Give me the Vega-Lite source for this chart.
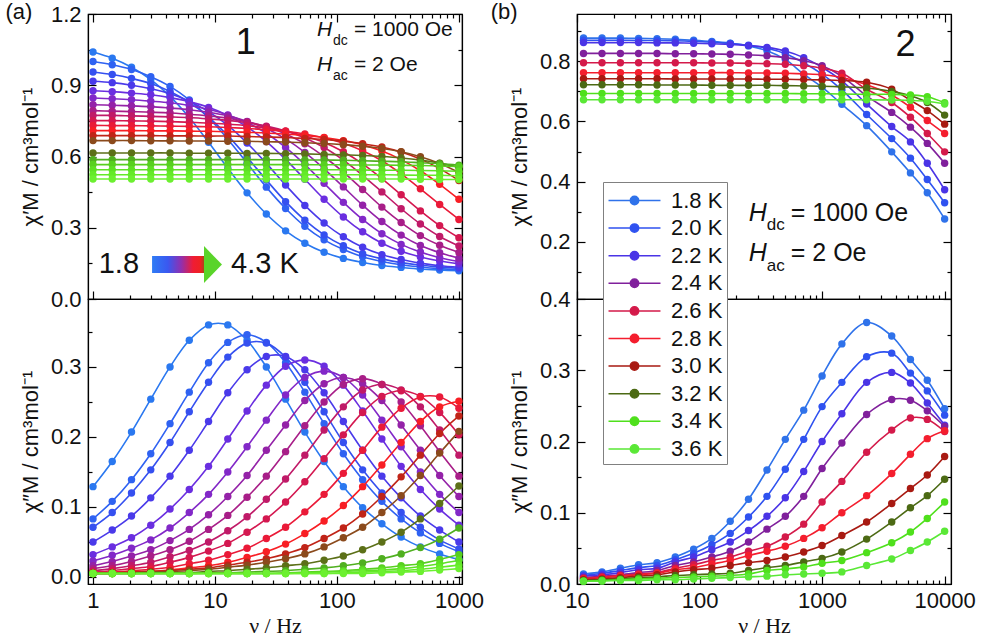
{
"$schema":"https://vega.github.io/schema/vega-lite/v6.json",
"background":"white",
"padding":{"left":4,"top":0,"right":4,"bottom":0},
"datasets":{
"d1":[
{"T":"1:1.8","f":1,"re":1.040,"im":0.129},{"T":"1:1.8","f":1.438,"re":1.014,"im":0.165},{"T":"1:1.8","f":2.069,"re":0.976,"im":0.207},{"T":"1:1.8","f":2.976,"re":0.924,"im":0.254},{"T":"1:1.8","f":4.281,"re":0.853,"im":0.300},{"T":"1:1.8","f":6.158,"re":0.764,"im":0.338},{"T":"1:1.8","f":8.859,"re":0.660,"im":0.360},{"T":"1:1.8","f":12.74,"re":0.551,"im":0.360},{"T":"1:1.8","f":18.33,"re":0.447,"im":0.338},{"T":"1:1.8","f":26.37,"re":0.358,"im":0.300},{"T":"1:1.8","f":37.93,"re":0.287,"im":0.254},{"T":"1:1.8","f":54.56,"re":0.235,"im":0.207},{"T":"1:1.8","f":78.48,"re":0.197,"im":0.165},{"T":"1:1.8","f":112.9,"re":0.171,"im":0.129},{"T":"1:1.8","f":162.4,"re":0.154,"im":0.099},{"T":"1:1.8","f":233.6,"re":0.141,"im":0.076},{"T":"1:1.8","f":336,"re":0.133,"im":0.057},{"T":"1:1.8","f":483.3,"re":0.126,"im":0.043},{"T":"1:1.8","f":695.2,"re":0.122,"im":0.033},{"T":"1:1.8","f":1000,"re":0.119,"im":0.025},
{"T":"1:1.9","f":1,"re":1.000,"im":0.083},{"T":"1:1.9","f":1.438,"re":0.986,"im":0.108},{"T":"1:1.9","f":2.069,"re":0.966,"im":0.139},{"T":"1:1.9","f":2.976,"re":0.936,"im":0.176},{"T":"1:1.9","f":4.281,"re":0.895,"im":0.219},{"T":"1:1.9","f":6.158,"re":0.838,"im":0.264},{"T":"1:1.9","f":8.859,"re":0.763,"im":0.306},{"T":"1:1.9","f":12.74,"re":0.673,"im":0.335},{"T":"1:1.9","f":18.33,"re":0.572,"im":0.346},{"T":"1:1.9","f":26.37,"re":0.471,"im":0.335},{"T":"1:1.9","f":37.93,"re":0.381,"im":0.306},{"T":"1:1.9","f":54.56,"re":0.306,"im":0.264},{"T":"1:1.9","f":78.48,"re":0.249,"im":0.219},{"T":"1:1.9","f":112.9,"re":0.208,"im":0.176},{"T":"1:1.9","f":162.4,"re":0.178,"im":0.139},{"T":"1:1.9","f":233.6,"re":0.158,"im":0.108},{"T":"1:1.9","f":336,"re":0.144,"im":0.083},{"T":"1:1.9","f":483.3,"re":0.135,"im":0.063},{"T":"1:1.9","f":695.2,"re":0.128,"im":0.048},{"T":"1:1.9","f":1000,"re":0.123,"im":0.036},
{"T":"1:2.0","f":1,"re":0.956,"im":0.071},{"T":"1:2.0","f":1.438,"re":0.945,"im":0.092},{"T":"1:2.0","f":2.069,"re":0.929,"im":0.120},{"T":"1:2.0","f":2.976,"re":0.907,"im":0.153},{"T":"1:2.0","f":4.281,"re":0.874,"im":0.192},{"T":"1:2.0","f":6.158,"re":0.828,"im":0.236},{"T":"1:2.0","f":8.859,"re":0.766,"im":0.278},{"T":"1:2.0","f":12.74,"re":0.688,"im":0.314},{"T":"1:2.0","f":18.33,"re":0.597,"im":0.334},{"T":"1:2.0","f":26.37,"re":0.501,"im":0.334},{"T":"1:2.0","f":37.93,"re":0.410,"im":0.314},{"T":"1:2.0","f":54.56,"re":0.332,"im":0.278},{"T":"1:2.0","f":78.48,"re":0.270,"im":0.236},{"T":"1:2.0","f":112.9,"re":0.224,"im":0.192},{"T":"1:2.0","f":162.4,"re":0.191,"im":0.153},{"T":"1:2.0","f":233.6,"re":0.169,"im":0.120},{"T":"1:2.0","f":336,"re":0.153,"im":0.092},{"T":"1:2.0","f":483.3,"re":0.142,"im":0.071},{"T":"1:2.0","f":695.2,"re":0.135,"im":0.053},{"T":"1:2.0","f":1000,"re":0.129,"im":0.040},
{"T":"1:2.1","f":1,"re":0.917,"im":0.050},{"T":"1:2.1","f":1.438,"re":0.911,"im":0.067},{"T":"1:2.1","f":2.069,"re":0.900,"im":0.087},{"T":"1:2.1","f":2.976,"re":0.885,"im":0.113},{"T":"1:2.1","f":4.281,"re":0.864,"im":0.144},{"T":"1:2.1","f":6.158,"re":0.833,"im":0.181},{"T":"1:2.1","f":8.859,"re":0.789,"im":0.222},{"T":"1:2.1","f":12.74,"re":0.731,"im":0.263},{"T":"1:2.1","f":18.33,"re":0.657,"im":0.296},{"T":"1:2.1","f":26.37,"re":0.571,"im":0.315},{"T":"1:2.1","f":37.93,"re":0.480,"im":0.315},{"T":"1:2.1","f":54.56,"re":0.394,"im":0.296},{"T":"1:2.1","f":78.48,"re":0.320,"im":0.263},{"T":"1:2.1","f":112.9,"re":0.262,"im":0.222},{"T":"1:2.1","f":162.4,"re":0.218,"im":0.181},{"T":"1:2.1","f":233.6,"re":0.187,"im":0.144},{"T":"1:2.1","f":336,"re":0.166,"im":0.113},{"T":"1:2.1","f":483.3,"re":0.151,"im":0.087},{"T":"1:2.1","f":695.2,"re":0.140,"im":0.067},{"T":"1:2.1","f":1000,"re":0.134,"im":0.050},
{"T":"1:2.2","f":1,"re":0.877,"im":0.032},{"T":"1:2.2","f":1.438,"re":0.873,"im":0.043},{"T":"1:2.2","f":2.069,"re":0.867,"im":0.056},{"T":"1:2.2","f":2.976,"re":0.860,"im":0.074},{"T":"1:2.2","f":4.281,"re":0.848,"im":0.097},{"T":"1:2.2","f":6.158,"re":0.831,"im":0.125},{"T":"1:2.2","f":8.859,"re":0.807,"im":0.158},{"T":"1:2.2","f":12.74,"re":0.773,"im":0.197},{"T":"1:2.2","f":18.33,"re":0.725,"im":0.237},{"T":"1:2.2","f":26.37,"re":0.663,"im":0.274},{"T":"1:2.2","f":37.93,"re":0.588,"im":0.301},{"T":"1:2.2","f":54.56,"re":0.504,"im":0.310},{"T":"1:2.2","f":78.48,"re":0.420,"im":0.301},{"T":"1:2.2","f":112.9,"re":0.345,"im":0.274},{"T":"1:2.2","f":162.4,"re":0.283,"im":0.237},{"T":"1:2.2","f":233.6,"re":0.235,"im":0.197},{"T":"1:2.2","f":336,"re":0.201,"im":0.158},{"T":"1:2.2","f":483.3,"re":0.177,"im":0.125},{"T":"1:2.2","f":695.2,"re":0.160,"im":0.097},{"T":"1:2.2","f":1000,"re":0.148,"im":0.074},
{"T":"1:2.3","f":1,"re":0.846,"im":0.023},{"T":"1:2.3","f":1.438,"re":0.843,"im":0.031},{"T":"1:2.3","f":2.069,"re":0.839,"im":0.041},{"T":"1:2.3","f":2.976,"re":0.833,"im":0.053},{"T":"1:2.3","f":4.281,"re":0.826,"im":0.070},{"T":"1:2.3","f":6.158,"re":0.815,"im":0.092},{"T":"1:2.3","f":8.859,"re":0.799,"im":0.118},{"T":"1:2.3","f":12.74,"re":0.775,"im":0.150},{"T":"1:2.3","f":18.33,"re":0.743,"im":0.186},{"T":"1:2.3","f":26.37,"re":0.698,"im":0.224},{"T":"1:2.3","f":37.93,"re":0.638,"im":0.260},{"T":"1:2.3","f":54.56,"re":0.566,"im":0.285},{"T":"1:2.3","f":78.48,"re":0.487,"im":0.294},{"T":"1:2.3","f":112.9,"re":0.407,"im":0.285},{"T":"1:2.3","f":162.4,"re":0.335,"im":0.260},{"T":"1:2.3","f":233.6,"re":0.275,"im":0.224},{"T":"1:2.3","f":336,"re":0.230,"im":0.186},{"T":"1:2.3","f":483.3,"re":0.198,"im":0.150},{"T":"1:2.3","f":695.2,"re":0.174,"im":0.118},{"T":"1:2.3","f":1000,"re":0.158,"im":0.092},
{"T":"1:2.4","f":1,"re":0.818,"im":0.016},{"T":"1:2.4","f":1.438,"re":0.816,"im":0.022},{"T":"1:2.4","f":2.069,"re":0.813,"im":0.030},{"T":"1:2.4","f":2.976,"re":0.810,"im":0.039},{"T":"1:2.4","f":4.281,"re":0.804,"im":0.052},{"T":"1:2.4","f":6.158,"re":0.797,"im":0.068},{"T":"1:2.4","f":8.859,"re":0.786,"im":0.089},{"T":"1:2.4","f":12.74,"re":0.771,"im":0.115},{"T":"1:2.4","f":18.33,"re":0.748,"im":0.145},{"T":"1:2.4","f":26.37,"re":0.718,"im":0.181},{"T":"1:2.4","f":37.93,"re":0.674,"im":0.217},{"T":"1:2.4","f":54.56,"re":0.617,"im":0.252},{"T":"1:2.4","f":78.48,"re":0.548,"im":0.276},{"T":"1:2.4","f":112.9,"re":0.472,"im":0.285},{"T":"1:2.4","f":162.4,"re":0.395,"im":0.276},{"T":"1:2.4","f":233.6,"re":0.326,"im":0.252},{"T":"1:2.4","f":336,"re":0.269,"im":0.217},{"T":"1:2.4","f":483.3,"re":0.225,"im":0.181},{"T":"1:2.4","f":695.2,"re":0.195,"im":0.145},{"T":"1:2.4","f":1000,"re":0.172,"im":0.115},
{"T":"1:2.5","f":1,"re":0.793,"im":0.012},{"T":"1:2.5","f":1.438,"re":0.791,"im":0.016},{"T":"1:2.5","f":2.069,"re":0.789,"im":0.022},{"T":"1:2.5","f":2.976,"re":0.787,"im":0.030},{"T":"1:2.5","f":4.281,"re":0.783,"im":0.039},{"T":"1:2.5","f":6.158,"re":0.778,"im":0.051},{"T":"1:2.5","f":8.859,"re":0.771,"im":0.068},{"T":"1:2.5","f":12.74,"re":0.761,"im":0.088},{"T":"1:2.5","f":18.33,"re":0.746,"im":0.114},{"T":"1:2.5","f":26.37,"re":0.725,"im":0.144},{"T":"1:2.5","f":37.93,"re":0.695,"im":0.179},{"T":"1:2.5","f":54.56,"re":0.654,"im":0.216},{"T":"1:2.5","f":78.48,"re":0.599,"im":0.250},{"T":"1:2.5","f":112.9,"re":0.534,"im":0.275},{"T":"1:2.5","f":162.4,"re":0.461,"im":0.283},{"T":"1:2.5","f":233.6,"re":0.387,"im":0.275},{"T":"1:2.5","f":336,"re":0.322,"im":0.250},{"T":"1:2.5","f":483.3,"re":0.267,"im":0.216},{"T":"1:2.5","f":695.2,"re":0.226,"im":0.179},{"T":"1:2.5","f":1000,"re":0.196,"im":0.144},
{"T":"1:2.6","f":1,"re":0.773,"im":0.009},{"T":"1:2.6","f":1.438,"re":0.773,"im":0.012},{"T":"1:2.6","f":2.069,"re":0.771,"im":0.016},{"T":"1:2.6","f":2.976,"re":0.769,"im":0.021},{"T":"1:2.6","f":4.281,"re":0.767,"im":0.029},{"T":"1:2.6","f":6.158,"re":0.764,"im":0.038},{"T":"1:2.6","f":8.859,"re":0.758,"im":0.050},{"T":"1:2.6","f":12.74,"re":0.752,"im":0.066},{"T":"1:2.6","f":18.33,"re":0.742,"im":0.086},{"T":"1:2.6","f":26.37,"re":0.728,"im":0.111},{"T":"1:2.6","f":37.93,"re":0.707,"im":0.140},{"T":"1:2.6","f":54.56,"re":0.678,"im":0.174},{"T":"1:2.6","f":78.48,"re":0.638,"im":0.210},{"T":"1:2.6","f":112.9,"re":0.585,"im":0.243},{"T":"1:2.6","f":162.4,"re":0.521,"im":0.267},{"T":"1:2.6","f":233.6,"re":0.451,"im":0.275},{"T":"1:2.6","f":336,"re":0.380,"im":0.267},{"T":"1:2.6","f":483.3,"re":0.316,"im":0.243},{"T":"1:2.6","f":695.2,"re":0.263,"im":0.210},{"T":"1:2.6","f":1000,"re":0.223,"im":0.174},
{"T":"1:2.7","f":1,"re":0.751,"im":0.007},{"T":"1:2.7","f":1.438,"re":0.751,"im":0.009},{"T":"1:2.7","f":2.069,"re":0.750,"im":0.012},{"T":"1:2.7","f":2.976,"re":0.749,"im":0.015},{"T":"1:2.7","f":4.281,"re":0.747,"im":0.021},{"T":"1:2.7","f":6.158,"re":0.744,"im":0.028},{"T":"1:2.7","f":8.859,"re":0.741,"im":0.037},{"T":"1:2.7","f":12.74,"re":0.736,"im":0.048},{"T":"1:2.7","f":18.33,"re":0.730,"im":0.064},{"T":"1:2.7","f":26.37,"re":0.720,"im":0.083},{"T":"1:2.7","f":37.93,"re":0.707,"im":0.107},{"T":"1:2.7","f":54.56,"re":0.686,"im":0.136},{"T":"1:2.7","f":78.48,"re":0.659,"im":0.169},{"T":"1:2.7","f":112.9,"re":0.620,"im":0.203},{"T":"1:2.7","f":162.4,"re":0.569,"im":0.235},{"T":"1:2.7","f":233.6,"re":0.507,"im":0.258},{"T":"1:2.7","f":336,"re":0.439,"im":0.266},{"T":"1:2.7","f":483.3,"re":0.371,"im":0.258},{"T":"1:2.7","f":695.2,"re":0.309,"im":0.235},{"T":"1:2.7","f":1000,"re":0.258,"im":0.203},
{"T":"1:2.8","f":1,"re":0.731,"im":0.006},{"T":"1:2.8","f":1.438,"re":0.730,"im":0.007},{"T":"1:2.8","f":2.069,"re":0.730,"im":0.009},{"T":"1:2.8","f":2.976,"re":0.729,"im":0.011},{"T":"1:2.8","f":4.281,"re":0.728,"im":0.014},{"T":"1:2.8","f":6.158,"re":0.727,"im":0.019},{"T":"1:2.8","f":8.859,"re":0.725,"im":0.024},{"T":"1:2.8","f":12.74,"re":0.722,"im":0.032},{"T":"1:2.8","f":18.33,"re":0.718,"im":0.041},{"T":"1:2.8","f":26.37,"re":0.713,"im":0.055},{"T":"1:2.8","f":37.93,"re":0.706,"im":0.071},{"T":"1:2.8","f":54.56,"re":0.695,"im":0.093},{"T":"1:2.8","f":78.48,"re":0.679,"im":0.118},{"T":"1:2.8","f":112.9,"re":0.656,"im":0.148},{"T":"1:2.8","f":162.4,"re":0.624,"im":0.181},{"T":"1:2.8","f":233.6,"re":0.582,"im":0.214},{"T":"1:2.8","f":336,"re":0.527,"im":0.241},{"T":"1:2.8","f":483.3,"re":0.464,"im":0.257},{"T":"1:2.8","f":695.2,"re":0.398,"im":0.257},{"T":"1:2.8","f":1000,"re":0.335,"im":0.241},
{"T":"1:2.9","f":1,"re":0.709,"im":0.005},{"T":"1:2.9","f":1.438,"re":0.709,"im":0.005},{"T":"1:2.9","f":2.069,"re":0.709,"im":0.007},{"T":"1:2.9","f":2.976,"re":0.708,"im":0.008},{"T":"1:2.9","f":4.281,"re":0.708,"im":0.010},{"T":"1:2.9","f":6.158,"re":0.707,"im":0.013},{"T":"1:2.9","f":8.859,"re":0.706,"im":0.016},{"T":"1:2.9","f":12.74,"re":0.704,"im":0.021},{"T":"1:2.9","f":18.33,"re":0.702,"im":0.028},{"T":"1:2.9","f":26.37,"re":0.699,"im":0.036},{"T":"1:2.9","f":37.93,"re":0.694,"im":0.047},{"T":"1:2.9","f":54.56,"re":0.689,"im":0.062},{"T":"1:2.9","f":78.48,"re":0.680,"im":0.080},{"T":"1:2.9","f":112.9,"re":0.667,"im":0.102},{"T":"1:2.9","f":162.4,"re":0.649,"im":0.129},{"T":"1:2.9","f":233.6,"re":0.623,"im":0.160},{"T":"1:2.9","f":336,"re":0.587,"im":0.192},{"T":"1:2.9","f":483.3,"re":0.540,"im":0.222},{"T":"1:2.9","f":695.2,"re":0.483,"im":0.243},{"T":"1:2.9","f":1000,"re":0.420,"im":0.251},
{"T":"1:3.0","f":1,"re":0.688,"im":0.006},{"T":"1:3.0","f":1.438,"re":0.688,"im":0.006},{"T":"1:3.0","f":2.069,"re":0.688,"im":0.007},{"T":"1:3.0","f":2.976,"re":0.688,"im":0.008},{"T":"1:3.0","f":4.281,"re":0.687,"im":0.009},{"T":"1:3.0","f":6.158,"re":0.687,"im":0.011},{"T":"1:3.0","f":8.859,"re":0.686,"im":0.013},{"T":"1:3.0","f":12.74,"re":0.686,"im":0.017},{"T":"1:3.0","f":18.33,"re":0.684,"im":0.021},{"T":"1:3.0","f":26.37,"re":0.682,"im":0.026},{"T":"1:3.0","f":37.93,"re":0.680,"im":0.033},{"T":"1:3.0","f":54.56,"re":0.676,"im":0.042},{"T":"1:3.0","f":78.48,"re":0.672,"im":0.055},{"T":"1:3.0","f":112.9,"re":0.664,"im":0.070},{"T":"1:3.0","f":162.4,"re":0.654,"im":0.090},{"T":"1:3.0","f":233.6,"re":0.640,"im":0.115},{"T":"1:3.0","f":336,"re":0.619,"im":0.143},{"T":"1:3.0","f":483.3,"re":0.589,"im":0.174},{"T":"1:3.0","f":695.2,"re":0.549,"im":0.205},{"T":"1:3.0","f":1000,"re":0.499,"im":0.230},
{"T":"1:3.1","f":1,"re":0.667,"im":0.005},{"T":"1:3.1","f":1.438,"re":0.667,"im":0.006},{"T":"1:3.1","f":2.069,"re":0.667,"im":0.006},{"T":"1:3.1","f":2.976,"re":0.666,"im":0.007},{"T":"1:3.1","f":4.281,"re":0.666,"im":0.008},{"T":"1:3.1","f":6.158,"re":0.665,"im":0.009},{"T":"1:3.1","f":8.859,"re":0.665,"im":0.011},{"T":"1:3.1","f":12.74,"re":0.664,"im":0.014},{"T":"1:3.1","f":18.33,"re":0.664,"im":0.017},{"T":"1:3.1","f":26.37,"re":0.662,"im":0.021},{"T":"1:3.1","f":37.93,"re":0.661,"im":0.026},{"T":"1:3.1","f":54.56,"re":0.658,"im":0.033},{"T":"1:3.1","f":78.48,"re":0.655,"im":0.043},{"T":"1:3.1","f":112.9,"re":0.650,"im":0.056},{"T":"1:3.1","f":162.4,"re":0.643,"im":0.071},{"T":"1:3.1","f":233.6,"re":0.634,"im":0.092},{"T":"1:3.1","f":336,"re":0.620,"im":0.116},{"T":"1:3.1","f":483.3,"re":0.599,"im":0.145},{"T":"1:3.1","f":695.2,"re":0.571,"im":0.177},{"T":"1:3.1","f":1000,"re":0.533,"im":0.208},
{"T":"1:3.3","f":1,"re":0.615,"im":0.005},{"T":"1:3.3","f":1.438,"re":0.615,"im":0.005},{"T":"1:3.3","f":2.069,"re":0.615,"im":0.005},{"T":"1:3.3","f":2.976,"re":0.615,"im":0.006},{"T":"1:3.3","f":4.281,"re":0.615,"im":0.006},{"T":"1:3.3","f":6.158,"re":0.614,"im":0.006},{"T":"1:3.3","f":8.859,"re":0.614,"im":0.008},{"T":"1:3.3","f":12.74,"re":0.614,"im":0.009},{"T":"1:3.3","f":18.33,"re":0.613,"im":0.011},{"T":"1:3.3","f":26.37,"re":0.613,"im":0.013},{"T":"1:3.3","f":37.93,"re":0.612,"im":0.016},{"T":"1:3.3","f":54.56,"re":0.611,"im":0.019},{"T":"1:3.3","f":78.48,"re":0.609,"im":0.024},{"T":"1:3.3","f":112.9,"re":0.607,"im":0.030},{"T":"1:3.3","f":162.4,"re":0.604,"im":0.039},{"T":"1:3.3","f":233.6,"re":0.600,"im":0.050},{"T":"1:3.3","f":336,"re":0.594,"im":0.064},{"T":"1:3.3","f":483.3,"re":0.585,"im":0.083},{"T":"1:3.3","f":695.2,"re":0.572,"im":0.105},{"T":"1:3.3","f":1000,"re":0.554,"im":0.130},
{"T":"1:3.5","f":1,"re":0.587,"im":0.005},{"T":"1:3.5","f":1.438,"re":0.587,"im":0.005},{"T":"1:3.5","f":2.069,"re":0.587,"im":0.005},{"T":"1:3.5","f":2.976,"re":0.587,"im":0.005},{"T":"1:3.5","f":4.281,"re":0.587,"im":0.005},{"T":"1:3.5","f":6.158,"re":0.587,"im":0.005},{"T":"1:3.5","f":8.859,"re":0.587,"im":0.006},{"T":"1:3.5","f":12.74,"re":0.587,"im":0.006},{"T":"1:3.5","f":18.33,"re":0.587,"im":0.007},{"T":"1:3.5","f":26.37,"re":0.586,"im":0.008},{"T":"1:3.5","f":37.93,"re":0.586,"im":0.009},{"T":"1:3.5","f":54.56,"re":0.585,"im":0.011},{"T":"1:3.5","f":78.48,"re":0.585,"im":0.013},{"T":"1:3.5","f":112.9,"re":0.584,"im":0.016},{"T":"1:3.5","f":162.4,"re":0.582,"im":0.020},{"T":"1:3.5","f":233.6,"re":0.580,"im":0.026},{"T":"1:3.5","f":336,"re":0.578,"im":0.033},{"T":"1:3.5","f":483.3,"re":0.574,"im":0.042},{"T":"1:3.5","f":695.2,"re":0.570,"im":0.054},{"T":"1:3.5","f":1000,"re":0.563,"im":0.070},
{"T":"1:3.7","f":1,"re":0.566,"im":0.005},{"T":"1:3.7","f":1.438,"re":0.566,"im":0.005},{"T":"1:3.7","f":2.069,"re":0.566,"im":0.005},{"T":"1:3.7","f":2.976,"re":0.566,"im":0.005},{"T":"1:3.7","f":4.281,"re":0.566,"im":0.005},{"T":"1:3.7","f":6.158,"re":0.566,"im":0.005},{"T":"1:3.7","f":8.859,"re":0.566,"im":0.005},{"T":"1:3.7","f":12.74,"re":0.566,"im":0.005},{"T":"1:3.7","f":18.33,"re":0.566,"im":0.005},{"T":"1:3.7","f":26.37,"re":0.566,"im":0.005},{"T":"1:3.7","f":37.93,"re":0.566,"im":0.006},{"T":"1:3.7","f":54.56,"re":0.566,"im":0.007},{"T":"1:3.7","f":78.48,"re":0.565,"im":0.008},{"T":"1:3.7","f":112.9,"re":0.565,"im":0.009},{"T":"1:3.7","f":162.4,"re":0.564,"im":0.011},{"T":"1:3.7","f":233.6,"re":0.564,"im":0.013},{"T":"1:3.7","f":336,"re":0.563,"im":0.016},{"T":"1:3.7","f":483.3,"re":0.562,"im":0.019},{"T":"1:3.7","f":695.2,"re":0.560,"im":0.025},{"T":"1:3.7","f":1000,"re":0.558,"im":0.032},
{"T":"1:3.9","f":1,"re":0.544,"im":0.005},{"T":"1:3.9","f":1.438,"re":0.544,"im":0.005},{"T":"1:3.9","f":2.069,"re":0.544,"im":0.005},{"T":"1:3.9","f":2.976,"re":0.544,"im":0.005},{"T":"1:3.9","f":4.281,"re":0.544,"im":0.005},{"T":"1:3.9","f":6.158,"re":0.544,"im":0.005},{"T":"1:3.9","f":8.859,"re":0.544,"im":0.005},{"T":"1:3.9","f":12.74,"re":0.544,"im":0.005},{"T":"1:3.9","f":18.33,"re":0.544,"im":0.005},{"T":"1:3.9","f":26.37,"re":0.544,"im":0.005},{"T":"1:3.9","f":37.93,"re":0.544,"im":0.005},{"T":"1:3.9","f":54.56,"re":0.544,"im":0.006},{"T":"1:3.9","f":78.48,"re":0.544,"im":0.007},{"T":"1:3.9","f":112.9,"re":0.544,"im":0.008},{"T":"1:3.9","f":162.4,"re":0.543,"im":0.009},{"T":"1:3.9","f":233.6,"re":0.542,"im":0.010},{"T":"1:3.9","f":336,"re":0.542,"im":0.012},{"T":"1:3.9","f":483.3,"re":0.541,"im":0.015},{"T":"1:3.9","f":695.2,"re":0.540,"im":0.019},{"T":"1:3.9","f":1000,"re":0.538,"im":0.024},
{"T":"1:4.1","f":1,"re":0.523,"im":0.005},{"T":"1:4.1","f":1.438,"re":0.523,"im":0.005},{"T":"1:4.1","f":2.069,"re":0.523,"im":0.005},{"T":"1:4.1","f":2.976,"re":0.523,"im":0.005},{"T":"1:4.1","f":4.281,"re":0.523,"im":0.005},{"T":"1:4.1","f":6.158,"re":0.523,"im":0.005},{"T":"1:4.1","f":8.859,"re":0.523,"im":0.005},{"T":"1:4.1","f":12.74,"re":0.523,"im":0.005},{"T":"1:4.1","f":18.33,"re":0.523,"im":0.005},{"T":"1:4.1","f":26.37,"re":0.523,"im":0.005},{"T":"1:4.1","f":37.93,"re":0.523,"im":0.005},{"T":"1:4.1","f":54.56,"re":0.523,"im":0.005},{"T":"1:4.1","f":78.48,"re":0.523,"im":0.005},{"T":"1:4.1","f":112.9,"re":0.523,"im":0.006},{"T":"1:4.1","f":162.4,"re":0.523,"im":0.007},{"T":"1:4.1","f":233.6,"re":0.523,"im":0.008},{"T":"1:4.1","f":336,"re":0.522,"im":0.009},{"T":"1:4.1","f":483.3,"re":0.521,"im":0.011},{"T":"1:4.1","f":695.2,"re":0.521,"im":0.014},{"T":"1:4.1","f":1000,"re":0.519,"im":0.017},
{"T":"1:4.3","f":1,"re":0.505,"im":0.005},{"T":"1:4.3","f":1.438,"re":0.505,"im":0.005},{"T":"1:4.3","f":2.069,"re":0.505,"im":0.005},{"T":"1:4.3","f":2.976,"re":0.505,"im":0.005},{"T":"1:4.3","f":4.281,"re":0.505,"im":0.005},{"T":"1:4.3","f":6.158,"re":0.505,"im":0.005},{"T":"1:4.3","f":8.859,"re":0.505,"im":0.005},{"T":"1:4.3","f":12.74,"re":0.505,"im":0.005},{"T":"1:4.3","f":18.33,"re":0.505,"im":0.005},{"T":"1:4.3","f":26.37,"re":0.505,"im":0.005},{"T":"1:4.3","f":37.93,"re":0.505,"im":0.005},{"T":"1:4.3","f":54.56,"re":0.505,"im":0.005},{"T":"1:4.3","f":78.48,"re":0.505,"im":0.005},{"T":"1:4.3","f":112.9,"re":0.505,"im":0.005},{"T":"1:4.3","f":162.4,"re":0.505,"im":0.005},{"T":"1:4.3","f":233.6,"re":0.505,"im":0.006},{"T":"1:4.3","f":336,"re":0.505,"im":0.007},{"T":"1:4.3","f":483.3,"re":0.504,"im":0.008},{"T":"1:4.3","f":695.2,"re":0.503,"im":0.010},{"T":"1:4.3","f":1000,"re":0.503,"im":0.012}
],
"d2":[
{"T":"1.8 K","f":11.3,"re":0.877,"im":0.014},{"T":"1.8 K","f":16,"re":0.877,"im":0.017},{"T":"1.8 K","f":22.6,"re":0.877,"im":0.022},{"T":"1.8 K","f":31.8,"re":0.876,"im":0.027},{"T":"1.8 K","f":45,"re":0.875,"im":0.030},{"T":"1.8 K","f":63.4,"re":0.873,"im":0.038},{"T":"1.8 K","f":89.5,"re":0.870,"im":0.049},{"T":"1.8 K","f":126,"re":0.866,"im":0.064},{"T":"1.8 K","f":178,"re":0.860,"im":0.088},{"T":"1.8 K","f":251,"re":0.851,"im":0.119},{"T":"1.8 K","f":355,"re":0.835,"im":0.160},{"T":"1.8 K","f":501,"re":0.806,"im":0.203},{"T":"1.8 K","f":708,"re":0.757,"im":0.244},{"T":"1.8 K","f":1000,"re":0.714,"im":0.292},{"T":"1.8 K","f":1450,"re":0.657,"im":0.337},{"T":"1.8 K","f":2310,"re":0.586,"im":0.367},{"T":"1.8 K","f":3700,"re":0.499,"im":0.348},{"T":"1.8 K","f":5260,"re":0.429,"im":0.315},{"T":"1.8 K","f":7220,"re":0.363,"im":0.286},{"T":"1.8 K","f":10000,"re":0.276,"im":0.246},
{"T":"2.0 K","f":11.3,"re":0.870,"im":0.012},{"T":"2.0 K","f":16,"re":0.870,"im":0.015},{"T":"2.0 K","f":22.6,"re":0.870,"im":0.019},{"T":"2.0 K","f":31.8,"re":0.869,"im":0.023},{"T":"2.0 K","f":45,"re":0.869,"im":0.026},{"T":"2.0 K","f":63.4,"re":0.868,"im":0.034},{"T":"2.0 K","f":89.5,"re":0.866,"im":0.043},{"T":"2.0 K","f":126,"re":0.863,"im":0.055},{"T":"2.0 K","f":178,"re":0.859,"im":0.071},{"T":"2.0 K","f":251,"re":0.853,"im":0.094},{"T":"2.0 K","f":355,"re":0.843,"im":0.123},{"T":"2.0 K","f":501,"re":0.825,"im":0.161},{"T":"2.0 K","f":708,"re":0.795,"im":0.203},{"T":"2.0 K","f":1000,"re":0.757,"im":0.249},{"T":"2.0 K","f":1450,"re":0.705,"im":0.283},{"T":"2.0 K","f":2310,"re":0.623,"im":0.319},{"T":"2.0 K","f":3700,"re":0.543,"im":0.324},{"T":"2.0 K","f":5260,"re":0.478,"im":0.296},{"T":"2.0 K","f":7220,"re":0.407,"im":0.271},{"T":"2.0 K","f":10000,"re":0.330,"im":0.237},
{"T":"2.2 K","f":11.3,"re":0.862,"im":0.011},{"T":"2.2 K","f":16,"re":0.862,"im":0.013},{"T":"2.2 K","f":22.6,"re":0.862,"im":0.016},{"T":"2.2 K","f":31.8,"re":0.862,"im":0.020},{"T":"2.2 K","f":45,"re":0.861,"im":0.022},{"T":"2.2 K","f":63.4,"re":0.861,"im":0.031},{"T":"2.2 K","f":89.5,"re":0.860,"im":0.038},{"T":"2.2 K","f":126,"re":0.858,"im":0.048},{"T":"2.2 K","f":178,"re":0.856,"im":0.059},{"T":"2.2 K","f":251,"re":0.852,"im":0.075},{"T":"2.2 K","f":355,"re":0.846,"im":0.095},{"T":"2.2 K","f":501,"re":0.834,"im":0.121},{"T":"2.2 K","f":708,"re":0.812,"im":0.158},{"T":"2.2 K","f":1000,"re":0.780,"im":0.200},{"T":"2.2 K","f":1450,"re":0.735,"im":0.239},{"T":"2.2 K","f":2310,"re":0.658,"im":0.283},{"T":"2.2 K","f":3700,"re":0.583,"im":0.297},{"T":"2.2 K","f":5260,"re":0.532,"im":0.282},{"T":"2.2 K","f":7220,"re":0.461,"im":0.254},{"T":"2.2 K","f":10000,"re":0.373,"im":0.223},
{"T":"2.4 K","f":11.3,"re":0.826,"im":0.009},{"T":"2.4 K","f":16,"re":0.826,"im":0.011},{"T":"2.4 K","f":22.6,"re":0.826,"im":0.013},{"T":"2.4 K","f":31.8,"re":0.826,"im":0.016},{"T":"2.4 K","f":45,"re":0.826,"im":0.019},{"T":"2.4 K","f":63.4,"re":0.825,"im":0.026},{"T":"2.4 K","f":89.5,"re":0.825,"im":0.031},{"T":"2.4 K","f":126,"re":0.824,"im":0.038},{"T":"2.4 K","f":178,"re":0.823,"im":0.046},{"T":"2.4 K","f":251,"re":0.821,"im":0.059},{"T":"2.4 K","f":355,"re":0.818,"im":0.077},{"T":"2.4 K","f":501,"re":0.812,"im":0.095},{"T":"2.4 K","f":708,"re":0.802,"im":0.123},{"T":"2.4 K","f":1000,"re":0.785,"im":0.162},{"T":"2.4 K","f":1450,"re":0.750,"im":0.198},{"T":"2.4 K","f":2310,"re":0.685,"im":0.238},{"T":"2.4 K","f":3700,"re":0.630,"im":0.259},{"T":"2.4 K","f":5260,"re":0.581,"im":0.258},{"T":"2.4 K","f":7220,"re":0.527,"im":0.243},{"T":"2.4 K","f":10000,"re":0.461,"im":0.221},
{"T":"2.6 K","f":11.3,"re":0.795,"im":0.008},{"T":"2.6 K","f":16,"re":0.795,"im":0.010},{"T":"2.6 K","f":22.6,"re":0.795,"im":0.012},{"T":"2.6 K","f":31.8,"re":0.795,"im":0.014},{"T":"2.6 K","f":45,"re":0.795,"im":0.016},{"T":"2.6 K","f":63.4,"re":0.795,"im":0.022},{"T":"2.6 K","f":89.5,"re":0.795,"im":0.027},{"T":"2.6 K","f":126,"re":0.794,"im":0.033},{"T":"2.6 K","f":178,"re":0.794,"im":0.038},{"T":"2.6 K","f":251,"re":0.793,"im":0.046},{"T":"2.6 K","f":355,"re":0.792,"im":0.053},{"T":"2.6 K","f":501,"re":0.790,"im":0.066},{"T":"2.6 K","f":708,"re":0.785,"im":0.084},{"T":"2.6 K","f":1000,"re":0.777,"im":0.115},{"T":"2.6 K","f":1450,"re":0.760,"im":0.144},{"T":"2.6 K","f":2310,"re":0.707,"im":0.185},{"T":"2.6 K","f":3700,"re":0.663,"im":0.216},{"T":"2.6 K","f":5260,"re":0.614,"im":0.233},{"T":"2.6 K","f":7220,"re":0.560,"im":0.231},{"T":"2.6 K","f":10000,"re":0.499,"im":0.214},
{"T":"2.8 K","f":11.3,"re":0.762,"im":0.007},{"T":"2.8 K","f":16,"re":0.762,"im":0.009},{"T":"2.8 K","f":22.6,"re":0.762,"im":0.011},{"T":"2.8 K","f":31.8,"re":0.762,"im":0.013},{"T":"2.8 K","f":45,"re":0.762,"im":0.015},{"T":"2.8 K","f":63.4,"re":0.762,"im":0.020},{"T":"2.8 K","f":89.5,"re":0.762,"im":0.023},{"T":"2.8 K","f":126,"re":0.762,"im":0.028},{"T":"2.8 K","f":178,"re":0.762,"im":0.033},{"T":"2.8 K","f":251,"re":0.761,"im":0.040},{"T":"2.8 K","f":355,"re":0.761,"im":0.046},{"T":"2.8 K","f":501,"re":0.760,"im":0.053},{"T":"2.8 K","f":708,"re":0.758,"im":0.064},{"T":"2.8 K","f":1000,"re":0.755,"im":0.079},{"T":"2.8 K","f":1450,"re":0.746,"im":0.100},{"T":"2.8 K","f":2310,"re":0.722,"im":0.124},{"T":"2.8 K","f":3700,"re":0.688,"im":0.155},{"T":"2.8 K","f":5260,"re":0.647,"im":0.182},{"T":"2.8 K","f":7220,"re":0.603,"im":0.204},{"T":"2.8 K","f":10000,"re":0.560,"im":0.215},
{"T":"3.0 K","f":11.3,"re":0.742,"im":0.006},{"T":"3.0 K","f":16,"re":0.742,"im":0.007},{"T":"3.0 K","f":22.6,"re":0.742,"im":0.009},{"T":"3.0 K","f":31.8,"re":0.742,"im":0.011},{"T":"3.0 K","f":45,"re":0.742,"im":0.013},{"T":"3.0 K","f":63.4,"re":0.741,"im":0.017},{"T":"3.0 K","f":89.5,"re":0.741,"im":0.020},{"T":"3.0 K","f":126,"re":0.741,"im":0.022},{"T":"3.0 K","f":178,"re":0.741,"im":0.026},{"T":"3.0 K","f":251,"re":0.741,"im":0.030},{"T":"3.0 K","f":355,"re":0.740,"im":0.033},{"T":"3.0 K","f":501,"re":0.740,"im":0.038},{"T":"3.0 K","f":708,"re":0.739,"im":0.045},{"T":"3.0 K","f":1000,"re":0.738,"im":0.054},{"T":"3.0 K","f":1450,"re":0.736,"im":0.068},{"T":"3.0 K","f":2310,"re":0.730,"im":0.087},{"T":"3.0 K","f":3700,"re":0.707,"im":0.113},{"T":"3.0 K","f":5260,"re":0.670,"im":0.134},{"T":"3.0 K","f":7220,"re":0.636,"im":0.153},{"T":"3.0 K","f":10000,"re":0.591,"im":0.179},
{"T":"3.2 K","f":11.3,"re":0.722,"im":0.005},{"T":"3.2 K","f":16,"re":0.722,"im":0.006},{"T":"3.2 K","f":22.6,"re":0.722,"im":0.007},{"T":"3.2 K","f":31.8,"re":0.722,"im":0.009},{"T":"3.2 K","f":45,"re":0.721,"im":0.010},{"T":"3.2 K","f":63.4,"re":0.721,"im":0.012},{"T":"3.2 K","f":89.5,"re":0.721,"im":0.013},{"T":"3.2 K","f":126,"re":0.720,"im":0.014},{"T":"3.2 K","f":178,"re":0.720,"im":0.015},{"T":"3.2 K","f":251,"re":0.720,"im":0.019},{"T":"3.2 K","f":355,"re":0.720,"im":0.023},{"T":"3.2 K","f":501,"re":0.719,"im":0.026},{"T":"3.2 K","f":708,"re":0.718,"im":0.031},{"T":"3.2 K","f":1000,"re":0.717,"im":0.036},{"T":"3.2 K","f":1450,"re":0.715,"im":0.045},{"T":"3.2 K","f":2310,"re":0.711,"im":0.063},{"T":"3.2 K","f":3700,"re":0.700,"im":0.087},{"T":"3.2 K","f":5260,"re":0.685,"im":0.107},{"T":"3.2 K","f":7220,"re":0.663,"im":0.124},{"T":"3.2 K","f":10000,"re":0.621,"im":0.147},
{"T":"3.4 K","f":11.3,"re":0.693,"im":0.004},{"T":"3.4 K","f":16,"re":0.693,"im":0.005},{"T":"3.4 K","f":22.6,"re":0.693,"im":0.006},{"T":"3.4 K","f":31.8,"re":0.693,"im":0.007},{"T":"3.4 K","f":45,"re":0.693,"im":0.008},{"T":"3.4 K","f":63.4,"re":0.693,"im":0.009},{"T":"3.4 K","f":89.5,"re":0.693,"im":0.010},{"T":"3.4 K","f":126,"re":0.693,"im":0.011},{"T":"3.4 K","f":178,"re":0.693,"im":0.012},{"T":"3.4 K","f":251,"re":0.693,"im":0.014},{"T":"3.4 K","f":355,"re":0.693,"im":0.019},{"T":"3.4 K","f":501,"re":0.693,"im":0.021},{"T":"3.4 K","f":708,"re":0.692,"im":0.024},{"T":"3.4 K","f":1000,"re":0.692,"im":0.029},{"T":"3.4 K","f":1450,"re":0.691,"im":0.033},{"T":"3.4 K","f":2310,"re":0.690,"im":0.044},{"T":"3.4 K","f":3700,"re":0.690,"im":0.058},{"T":"3.4 K","f":5260,"re":0.688,"im":0.073},{"T":"3.4 K","f":7220,"re":0.682,"im":0.092},{"T":"3.4 K","f":10000,"re":0.662,"im":0.115},
{"T":"3.6 K","f":11.3,"re":0.672,"im":0.004},{"T":"3.6 K","f":16,"re":0.672,"im":0.004},{"T":"3.6 K","f":22.6,"re":0.672,"im":0.005},{"T":"3.6 K","f":31.8,"re":0.672,"im":0.005},{"T":"3.6 K","f":45,"re":0.672,"im":0.006},{"T":"3.6 K","f":63.4,"re":0.672,"im":0.006},{"T":"3.6 K","f":89.5,"re":0.672,"im":0.007},{"T":"3.6 K","f":126,"re":0.672,"im":0.008},{"T":"3.6 K","f":178,"re":0.672,"im":0.009},{"T":"3.6 K","f":251,"re":0.672,"im":0.010},{"T":"3.6 K","f":355,"re":0.672,"im":0.011},{"T":"3.6 K","f":501,"re":0.672,"im":0.013},{"T":"3.6 K","f":708,"re":0.672,"im":0.014},{"T":"3.6 K","f":1000,"re":0.672,"im":0.015},{"T":"3.6 K","f":1450,"re":0.672,"im":0.017},{"T":"3.6 K","f":2310,"re":0.672,"im":0.026},{"T":"3.6 K","f":3700,"re":0.671,"im":0.035},{"T":"3.6 K","f":5260,"re":0.670,"im":0.047},{"T":"3.6 K","f":7220,"re":0.667,"im":0.059},{"T":"3.6 K","f":10000,"re":0.658,"im":0.074}
]
},
"columns":2,
"spacing":{"row":0,"column":115},
"bounds":"flush",
"resolve":{"scale":{"color":"shared"}},
"concat":[
{
"width":374,"height":285,
"resolve":{"axis":{"x":"independent","y":"independent"}},
"layer":[
{"data":{"name":"d1"},"mark":{"type":"line","interpolate":"catmull-rom","strokeWidth":1.6},
"encoding":{
"x":{"field":"f","type":"quantitative","scale":{"type":"log","domain":[0.91,1060],"nice":false},
"axis":{"orient":"bottom","title":null,"labels":false,"values":[1,2,3,4,5,6,7,8,9,10,20,30,40,50,60,70,80,90,100,200,300,400,500,600,700,800,900,1000],
"tickSize":{"condition":{"test":"indexof([1,10,100,1000],datum.value)>=0","value":-8},"value":-4}}},
"y":{"field":"re","type":"quantitative","scale":{"domain":[0,1.2],"nice":false,"zero":false},
"axis":{"orient":"left","title":"χ′M / cm³mol⁻¹","values":[0,0.15,0.3,0.45,0.6,0.75,0.9,1.05,1.2],
"labelExpr":"indexof([0,0.3,0.6,0.9,1.2],datum.value)>=0 ? format(datum.value,'.1f') : ''",
"tickSize":{"condition":{"test":"indexof([0,0.3,0.6,0.9,1.2],datum.value)>=0","value":-8},"value":-4},
"labelPadding":15,"titlePadding":8}},
"color":{"field":"T","type":"nominal",
"scale":{"domain":["1:1.8","1:1.9","1:2.0","1:2.1","1:2.2","1:2.3","1:2.4","1:2.5","1:2.6","1:2.7","1:2.8","1:2.9","1:3.0","1:3.1","1:3.3","1:3.5","1:3.7","1:3.9","1:4.1","1:4.3","1.8 K","2.0 K","2.2 K","2.4 K","2.6 K","2.8 K","3.0 K","3.2 K","3.4 K","3.6 K"],
"range":["#2a78f0","#2f62f2","#3550f0","#4a3aea","#6a2ee0","#8228c8","#9422a8","#a81e88","#c01a68","#d41850","#ea1a38","#f81e24","#c02418","#8b4a1c","#5c7018","#50b020","#58d020","#5ee024","#64ea28","#6cf030","#2f72ea","#2f52f0","#4a34e6","#80209c","#d41a4a","#f41e2e","#a81a12","#4c6a14","#4fe01c","#5ae836"]}}
}},
{"data":{"name":"d1"},"mark":{"type":"point","filled":true,"size":55,"opacity":1},
"encoding":{
"x":{"field":"f","type":"quantitative","axis":{"orient":"top","title":null,"labels":false,"values":[1,2,3,4,5,6,7,8,9,10,20,30,40,50,60,70,80,90,100,200,300,400,500,600,700,800,900,1000],
"tickSize":{"condition":{"test":"indexof([1,10,100,1000],datum.value)>=0","value":-8},"value":-4}}},
"y":{"field":"re","type":"quantitative","axis":{"orient":"right","title":null,"labels":false,"values":[0,0.15,0.3,0.45,0.6,0.75,0.9,1.05,1.2],
"tickSize":{"condition":{"test":"indexof([0,0.3,0.6,0.9,1.2],datum.value)>=0","value":-8},"value":-4}}},
"color":{"field":"T","type":"nominal"}
}},
{"data":{"values":[{}]},"mark":{"type":"text","text":"(a)","font":"Liberation Sans","fontSize":22,"align":"center","baseline":"middle","color":"#111"},"encoding":{"x":{"datum":0.247,"axis":null},"y":{"datum":1.208,"axis":null}}},
{"data":{"values":[{}]},"mark":{"type":"text","text":"1","font":"Liberation Sans","fontSize":36,"align":"center","baseline":"middle","color":"#111"},"encoding":{"x":{"datum":17.9,"axis":null},"y":{"datum":1.078,"axis":null}}},
{"data":{"values":[{}]},"mark":{"type":"text","text":"H","font":"Liberation Sans","fontStyle":"italic","fontSize":21,"align":"left","baseline":"middle","color":"#111"},"encoding":{"x":{"datum":68.6,"axis":null},"y":{"datum":1.133,"axis":null}}},
{"data":{"values":[{}]},"mark":{"type":"text","text":"dc","font":"Liberation Sans","fontSize":14,"align":"left","baseline":"middle","color":"#111"},"encoding":{"x":{"datum":92.9,"axis":null},"y":{"datum":1.086,"axis":null}}},
{"data":{"values":[{}]},"mark":{"type":"text","text":"= 1000 Oe","font":"Liberation Sans","fontSize":21,"align":"left","baseline":"middle","color":"#111"},"encoding":{"x":{"datum":138,"axis":null},"y":{"datum":1.133,"axis":null}}},
{"data":{"values":[{}]},"mark":{"type":"text","text":"H","font":"Liberation Sans","fontStyle":"italic","fontSize":21,"align":"left","baseline":"middle","color":"#111"},"encoding":{"x":{"datum":68.6,"axis":null},"y":{"datum":0.985,"axis":null}}},
{"data":{"values":[{}]},"mark":{"type":"text","text":"ac","font":"Liberation Sans","fontSize":14,"align":"left","baseline":"middle","color":"#111"},"encoding":{"x":{"datum":92.9,"axis":null},"y":{"datum":0.939,"axis":null}}},
{"data":{"values":[{}]},"mark":{"type":"text","text":"= 2 Oe","font":"Liberation Sans","fontSize":21,"align":"left","baseline":"middle","color":"#111"},"encoding":{"x":{"datum":138,"axis":null},"y":{"datum":0.985,"axis":null}}},
{"data":{"values":[{}]},"mark":{"type":"rect","fill":{"gradient":"linear","x1":0,"y1":0,"x2":1,"y2":0,"stops":[{"offset":0,"color":"#2f7cf5"},{"offset":0.3,"color":"#3a58f0"},{"offset":0.55,"color":"#9030b0"},{"offset":0.78,"color":"#f01c34"},{"offset":0.92,"color":"#ee2222"},{"offset":1,"color":"#a04a18"}]}},
"encoding":{"x":{"datum":3.05,"axis":null},"x2":{"datum":8.25},"y":{"datum":0.181,"axis":null},"y2":{"datum":0.109}}},
{"data":{"values":[{}]},"mark":{"type":"point","shape":"M-0.486,-1L0.486,0L-0.486,1Z","filled":true,"fill":"#5ad42a","size":1369,"opacity":1,"strokeWidth":0},
"encoding":{"x":{"datum":9.63,"axis":null},"y":{"datum":0.145,"axis":null}}},
{"data":{"values":[{}]},"mark":{"type":"text","text":"1.8","font":"Liberation Sans","fontSize":29,"align":"center","baseline":"middle","color":"#111"},"encoding":{"x":{"datum":1.63,"axis":null},"y":{"datum":0.147,"axis":null}}},
{"data":{"values":[{}]},"mark":{"type":"text","text":"4.3 K","font":"Liberation Sans","fontSize":29,"align":"center","baseline":"middle","color":"#111"},"encoding":{"x":{"datum":25.7,"axis":null},"y":{"datum":0.147,"axis":null}}}
]
},
{
"width":374,"height":285,
"resolve":{"axis":{"x":"independent","y":"independent"}},
"layer":[
{"data":{"name":"d2"},"mark":{"type":"line","interpolate":"catmull-rom","strokeWidth":1.6},
"encoding":{
"x":{"field":"f","type":"quantitative","scale":{"type":"log","domain":[10,11270],"nice":false},
"axis":{"orient":"bottom","title":null,"labels":false,"values":[10,20,30,40,50,60,70,80,90,100,200,300,400,500,600,700,800,900,1000,2000,3000,4000,5000,6000,7000,8000,9000,10000],
"tickSize":{"condition":{"test":"indexof([10,100,1000,10000],datum.value)>=0","value":-8},"value":-4}}},
"y":{"field":"re","type":"quantitative","scale":{"domain":[0.01,0.957],"nice":false,"zero":false},
"axis":{"orient":"left","title":"χ′M / cm³mol⁻¹","values":[0.1,0.2,0.3,0.4,0.5,0.6,0.7,0.8,0.9],
"labelExpr":"indexof([0.2,0.4,0.6,0.8],datum.value)>=0 ? format(datum.value,'.1f') : ''",
"tickSize":{"condition":{"test":"indexof([0.2,0.4,0.6,0.8],datum.value)>=0","value":-8},"value":-4},
"labelPadding":15,"titlePadding":8}},
"color":{"field":"T","type":"nominal"}
}},
{"data":{"name":"d2"},"mark":{"type":"point","filled":true,"size":55,"opacity":1},
"encoding":{
"x":{"field":"f","type":"quantitative","axis":{"orient":"top","title":null,"labels":false,"values":[10,20,30,40,50,60,70,80,90,100,200,300,400,500,600,700,800,900,1000,2000,3000,4000,5000,6000,7000,8000,9000,10000],
"tickSize":{"condition":{"test":"indexof([10,100,1000,10000],datum.value)>=0","value":-8},"value":-4}}},
"y":{"field":"re","type":"quantitative","axis":{"orient":"right","title":null,"labels":false,"values":[0.1,0.2,0.3,0.4,0.5,0.6,0.7,0.8,0.9],
"tickSize":{"condition":{"test":"indexof([0.2,0.4,0.6,0.8],datum.value)>=0","value":-8},"value":-4}}},
"color":{"field":"T","type":"nominal"}
}},
{"data":{"values":[{}]},"mark":{"type":"text","text":"(b)","font":"Liberation Sans","fontSize":22,"align":"center","baseline":"middle","color":"#111"},"encoding":{"x":{"datum":2.54,"axis":null},"y":{"datum":0.964,"axis":null}}},
{"data":{"values":[{}]},"mark":{"type":"text","text":"2","font":"Liberation Sans","fontSize":36,"align":"center","baseline":"middle","color":"#111"},"encoding":{"x":{"datum":4800,"axis":null},"y":{"datum":0.854,"axis":null}}},
{"data":{"values":[{}]},"mark":{"type":"text","text":"H","font":"Liberation Sans","fontStyle":"italic","fontSize":25,"align":"left","baseline":"middle","color":"#111"},"encoding":{"x":{"datum":252,"axis":null},"y":{"datum":0.296,"axis":null}}},
{"data":{"values":[{}]},"mark":{"type":"text","text":"dc","font":"Liberation Sans","fontSize":17,"align":"left","baseline":"middle","color":"#111"},"encoding":{"x":{"datum":353,"axis":null},"y":{"datum":0.256,"axis":null}}},
{"data":{"values":[{}]},"mark":{"type":"text","text":"= 1000 Oe","font":"Liberation Sans","fontSize":25,"align":"left","baseline":"middle","color":"#111"},"encoding":{"x":{"datum":555,"axis":null},"y":{"datum":0.296,"axis":null}}},
{"data":{"values":[{}]},"mark":{"type":"text","text":"H","font":"Liberation Sans","fontStyle":"italic","fontSize":25,"align":"left","baseline":"middle","color":"#111"},"encoding":{"x":{"datum":252,"axis":null},"y":{"datum":0.164,"axis":null}}},
{"data":{"values":[{}]},"mark":{"type":"text","text":"ac","font":"Liberation Sans","fontSize":17,"align":"left","baseline":"middle","color":"#111"},"encoding":{"x":{"datum":353,"axis":null},"y":{"datum":0.120,"axis":null}}},
{"data":{"values":[{}]},"mark":{"type":"text","text":"= 2 Oe","font":"Liberation Sans","fontSize":25,"align":"left","baseline":"middle","color":"#111"},"encoding":{"x":{"datum":555,"axis":null},"y":{"datum":0.164,"axis":null}}}
]
},
{
"width":374,"height":285,
"resolve":{"axis":{"x":"independent","y":"independent"}},
"layer":[
{"data":{"name":"d1"},"mark":{"type":"line","interpolate":"catmull-rom","strokeWidth":1.6},
"encoding":{
"x":{"field":"f","type":"quantitative","scale":{"type":"log","domain":[0.91,1060],"nice":false},
"axis":{"orient":"bottom","title":"ν / Hz","titleFont":"Liberation Serif","values":[1,2,3,4,5,6,7,8,9,10,20,30,40,50,60,70,80,90,100,200,300,400,500,600,700,800,900,1000],
"labelExpr":"indexof([1,10,100,1000],datum.value)>=0 ? format(datum.value,'d') : ''",
"tickSize":{"condition":{"test":"indexof([1,10,100,1000],datum.value)>=0","value":-8},"value":-4},
"labelPadding":14,"titlePadding":0}},
"y":{"field":"im","type":"quantitative","scale":{"domain":[-0.01,0.397],"nice":false,"zero":false},
"axis":{"orient":"left","title":"χ″M / cm³mol⁻¹","values":[0,0.05,0.1,0.15,0.2,0.25,0.3,0.35],
"labelExpr":"indexof([0,0.1,0.2,0.3],datum.value)>=0 ? format(datum.value,'.1f') : ''",
"tickSize":{"condition":{"test":"indexof([0,0.1,0.2,0.3],datum.value)>=0","value":-8},"value":-4},
"labelPadding":15,"titlePadding":8}},
"color":{"field":"T","type":"nominal"}
}},
{"data":{"name":"d1"},"mark":{"type":"point","filled":true,"size":55,"opacity":1},
"encoding":{
"x":{"field":"f","type":"quantitative","axis":{"orient":"top","title":null,"labels":false,"ticks":false}},
"y":{"field":"im","type":"quantitative","axis":{"orient":"right","title":null,"labels":false,"values":[0,0.05,0.1,0.15,0.2,0.25,0.3,0.35],
"tickSize":{"condition":{"test":"indexof([0,0.1,0.2,0.3],datum.value)>=0","value":-8},"value":-4}}},
"color":{"field":"T","type":"nominal"}
}}
]
},
{
"width":374,"height":285,
"resolve":{"axis":{"x":"independent","y":"independent"}},
"layer":[
{"data":{"name":"d2"},"mark":{"type":"line","interpolate":"catmull-rom","strokeWidth":1.6},
"encoding":{
"x":{"field":"f","type":"quantitative","scale":{"type":"log","domain":[10,11270],"nice":false},
"axis":{"orient":"bottom","title":"ν / Hz","titleFont":"Liberation Serif","values":[10,20,30,40,50,60,70,80,90,100,200,300,400,500,600,700,800,900,1000,2000,3000,4000,5000,6000,7000,8000,9000,10000],
"labelExpr":"indexof([10,100,1000,10000],datum.value)>=0 ? format(datum.value,'d') : ''",
"tickSize":{"condition":{"test":"indexof([10,100,1000,10000],datum.value)>=0","value":-8},"value":-4},
"labelPadding":14,"titlePadding":0}},
"y":{"field":"im","type":"quantitative","scale":{"domain":[0,0.4],"nice":false,"zero":false},
"axis":{"orient":"left","title":"χ″M / cm³mol⁻¹","values":[0,0.05,0.1,0.15,0.2,0.25,0.3,0.35,0.4],
"labelExpr":"indexof([0,0.1,0.2,0.3,0.4],datum.value)>=0 ? format(datum.value,'.1f') : ''",
"tickSize":{"condition":{"test":"indexof([0,0.1,0.2,0.3,0.4],datum.value)>=0","value":-8},"value":-4},
"labelPadding":15,"titlePadding":8}},
"color":{"field":"T","type":"nominal",
"legend":{"orient":"none","legendX":515,"legendY":168,"title":null,
"values":["1.8 K","2.0 K","2.2 K","2.4 K","2.6 K","2.8 K","3.0 K","3.2 K","3.4 K","3.6 K"],
"symbolType":"M-1.89,0L1.89,0M0.305,0A0.305,0.305,0,1,1,-0.305,0A0.305,0.305,0,1,1,0.305,0Z","symbolSize":756,"symbolStrokeWidth":1.5,"symbolOffset":13,
"labelFont":"Liberation Sans","labelFontSize":22,"labelColor":"#111","labelOffset":22,"labelLimit":200,
"fillColor":"white","strokeColor":"#808080","padding":4,"rowPadding":1.6,
"encode":{"symbols":{"update":{"fill":{"scale":"color","field":"value"},"stroke":{"scale":"color","field":"value"},"opacity":{"value":1}}}}}}
}},
{"data":{"name":"d2"},"mark":{"type":"point","filled":true,"size":55,"opacity":1},
"encoding":{
"x":{"field":"f","type":"quantitative","axis":{"orient":"top","title":null,"labels":false,"ticks":false}},
"y":{"field":"im","type":"quantitative","axis":{"orient":"right","title":null,"labels":false,"values":[0,0.05,0.1,0.15,0.2,0.25,0.3,0.35,0.4],
"tickSize":{"condition":{"test":"indexof([0,0.1,0.2,0.3,0.4],datum.value)>=0","value":-8},"value":-4}}},
"color":{"field":"T","type":"nominal"}
}}
]
}
],
"config":{
"view":{"stroke":"#000","strokeWidth":1.2},
"axis":{"domainColor":"#000","domainWidth":1.2,"tickColor":"#000","tickWidth":1.2,"grid":false,
"labelFont":"Liberation Sans","labelFontSize":22,"labelColor":"#111","labelFlush":false,"labelOverlap":false,
"titleFont":"Liberation Sans","titleFontSize":22,"titleFontWeight":"normal","titleColor":"#111"}
}
}
